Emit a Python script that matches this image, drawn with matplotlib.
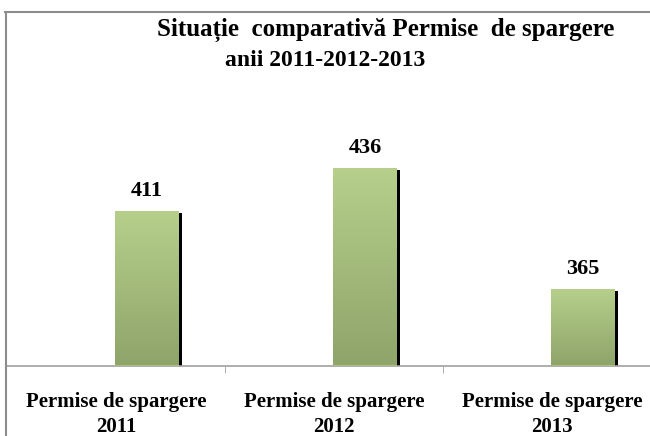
import numpy as np
import matplotlib.pyplot as plt
from matplotlib.lines import Line2D
from matplotlib.colors import LinearSegmentedColormap

categories = ["Permise de spargere\n2011", "Permise de spargere\n2012", "Permise de spargere\n2013"]
values = [411, 436, 365]

title_line1 = "Situație  comparativă Permise  de spargere"
title_line2 = "anii 2011-2012-2013"

serif = ["Liberation Serif", "DejaVu Serif"]

fig = plt.figure(figsize=(6.5, 4.36), dpi=100)
# plot area: left edge at 7 px, one category = 218 px
ax = fig.add_axes([7 / 650, 1 - 365.5 / 436, 640 / 650, 353.5 / 436])
ax.patch.set_visible(False)

x = np.arange(len(values))
offset = 0.142
width = 0.29
shadow_dx = 0.014

# black shadow on the right side of each bar
ax.bar(x + offset + shadow_dx, np.array(values) - 1.2, width=width,
       color="black", zorder=2)
bars = ax.bar(x + offset, values, width=width, color="#a9c27f", zorder=3)

# vertical gradient inside each bar
grad = np.linspace(0, 1, 256).reshape(-1, 1)
cmap = LinearSegmentedColormap.from_list("g", ["#8fa46a", "#b6d08c"])
for b in bars:
    im = ax.imshow(grad, cmap=cmap, aspect="auto", origin="lower", zorder=4,
                   extent=[b.get_x(), b.get_x() + b.get_width(), 320, b.get_height()])
    im.set_clip_path(b)

for xi, v in zip(x, values):
    ax.text(xi + offset, v + 6, str(v), ha="center", va="bottom", fontsize=16,
            fontweight="bold", family=serif, zorder=5)

ax.set_xlim(-0.5, -0.5 + 640 / 218)
ax.set_ylim(320, 528)
ax.set_xticks(x)
ax.set_xticklabels(categories, fontsize=15, fontweight="bold", family=serif, linespacing=1.35)
ax.set_xticks([0.5, 1.5], minor=True)
ax.tick_params(axis="x", which="major", length=0, pad=19)
ax.tick_params(axis="x", which="minor", length=5, color="#a0a0a0")
ax.set_yticks([])
for s in ["top", "right", "left"]:
    ax.spines[s].set_visible(False)
ax.spines["bottom"].set_color("#a0a0a0")
ax.spines["bottom"].set_linewidth(1.2)
ax.spines["bottom"].set_bounds(-0.5, 3)

# chart area border (top and left)
fig.add_artist(Line2D([5 / 650, 1], [1 - 12 / 436] * 2, transform=fig.transFigure,
                      color="#8c8c8c", lw=1.5))
fig.add_artist(Line2D([6 / 650] * 2, [0, 1 - 12 / 436], transform=fig.transFigure,
                      color="#8c8c8c", lw=1.5))

fig.text(157 / 650, 1 - 30 / 436, title_line1, ha="left", va="center", fontsize=18,
         fontweight="bold", family=serif)
fig.text(225 / 650, 1 - 60 / 436, title_line2, ha="left", va="center", fontsize=17,
         fontweight="bold", family=serif)

fig.savefig("out.png", dpi=100)
